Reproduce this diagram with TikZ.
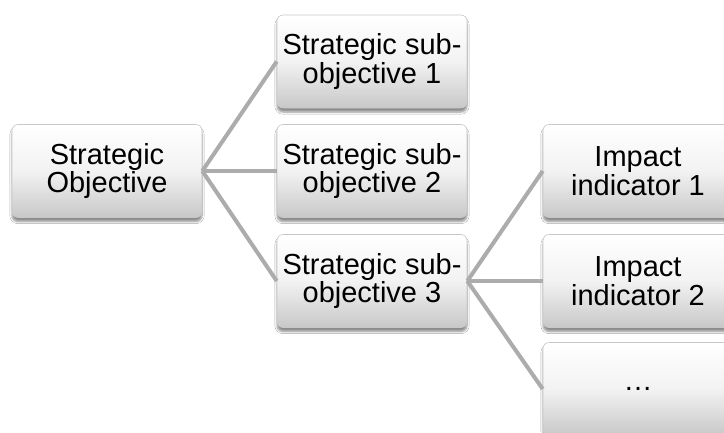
\documentclass[tikz,border=0pt]{standalone}
\usepackage{fontspec}
\setmainfont{Liberation Sans}
\usetikzlibrary{shadows.blur}
\definecolor{linkgray}{RGB}{172,172,172}
\definecolor{boxedge}{RGB}{200,200,200}
\definecolor{boxbottom}{RGB}{200,200,200}
\tikzset{
  card/.style={
    draw=boxedge, line width=0.6pt, rounded corners=6pt,
    minimum width=190pt, minimum height=93pt, inner sep=0pt,
    align=center, text=black,
    top color=white, bottom color=boxbottom, middle color=white!95!black,
    blur shadow={shadow xshift=0pt, shadow yshift=-4pt, shadow blur steps=6, shadow opacity=45},
    font=\fontsize{29}{28.5}\selectfont
  },
  link/.style={draw=linkgray, line width=4pt}
}
\begin{document}
\begin{tikzpicture}[x=1pt,y=-1pt]
  \useasboundingbox (0,0) rectangle (724,432);
  \clip (0,0) rectangle (724,432);
  \fill[white] (0,0) rectangle (724,432);
  % objective, sub-objectives, indicators
  \node[card] (so) at (107,171)  {Strategic\\Objective};
  \node[card] (s1) at (372,61.5) {Strategic sub-\\objective 1};
  \node[card] (s2) at (372,171)  {Strategic sub-\\objective 2};
  \node[card] (s3) at (372,281)  {Strategic sub-\\objective 3};
  \node[card] (i1) at (638,171)  {Impact\\indicator 1};
  \node[card] (i2) at (638,281)  {Impact\\indicator 2};
  \node[card] (i3) at (638,389)  {\dots};
  % tree links
  \draw[link] (so.east) -- (s1.west);
  \draw[link] (so.east) -- (s2.west);
  \draw[link] (so.east) -- (s3.west);
  \draw[link] (s3.east) -- (i1.west);
  \draw[link] (s3.east) -- (i2.west);
  \draw[link] (s3.east) -- (i3.west);
\end{tikzpicture}
\end{document}
